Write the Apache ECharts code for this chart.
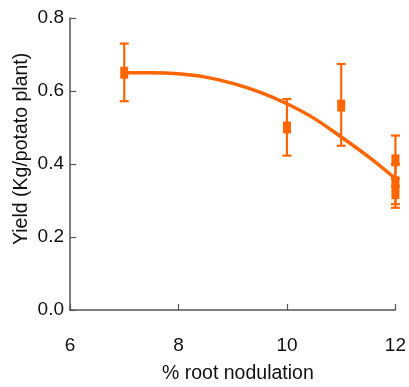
<!DOCTYPE html>
<html>
<head>
<meta charset="utf-8">
<script src="https://cdn.jsdelivr.net/npm/echarts@6/dist/echarts.min.js"></script>
<style>
  html, body { margin: 0; padding: 0; background: #fff; }
  #chart { width: 409px; height: 387px; }
</style>
</head>
<body>
<div id="chart"></div>
<script>
// Observed yields (mean with error range) per nodulation level
var ptX    = [7, 10, 11, 12, 12, 12];
var ptY    = [0.65, 0.50, 0.56, 0.41, 0.35, 0.32];
var errLow = [0.572, 0.423, 0.450, 0.34, 0.29, 0.28];
var errHigh= [0.730, 0.578, 0.674, 0.478, 0.40, 0.36];

// Fitted response curve
var curveX = [7.0, 7.5, 8.0, 8.5, 9.0, 9.5, 10.0, 10.5, 11.0, 11.5, 12.0];
var curveY = [0.650, 0.650, 0.647, 0.638, 0.621, 0.597, 0.565, 0.525, 0.474, 0.420, 0.360];

// Axis ticks
var xTicks = [6, 8, 10, 12];
var yTicks = [0.0, 0.2, 0.4, 0.6, 0.8];

var ORANGE = '#ff6600';
var AXIS = '#555555';
var FONT = 'Liberation Sans, Arial, Helvetica, sans-serif';

var points = ptX.map(function (x, i) { return [x, ptY[i]]; });
var errs = ptX.map(function (x, i) { return [x, errLow[i], errHigh[i]]; });
var curve = curveX.map(function (x, i) { return [x, curveY[i]]; });

var chart = echarts.init(document.getElementById('chart'), null, { renderer: 'canvas' });

chart.setOption({
  animation: false,
  backgroundColor: '#ffffff',
  grid: { left: 70, right: 10, top: 18, bottom: 77 },
  xAxis: {
    type: 'value',
    min: xTicks[0], max: xTicks[xTicks.length - 1], interval: 2,
    axisLine: { show: true, lineStyle: { color: AXIS, width: 1.5 } },
    axisTick: { show: true, inside: true, length: 6, lineStyle: { color: AXIS, width: 1.2 } },
    axisLabel: { color: '#111', fontSize: 19, fontFamily: FONT, margin: 26,
      formatter: function (v) { return xTicks.indexOf(v) >= 0 ? String(v) : ''; } },
    splitLine: { show: false }
  },
  yAxis: {
    type: 'value',
    min: yTicks[0], max: yTicks[yTicks.length - 1], interval: 0.2,
    axisLine: { show: true, lineStyle: { color: AXIS, width: 1.5 } },
    axisTick: { show: true, inside: true, length: 6, lineStyle: { color: AXIS, width: 1.2 } },
    axisLabel: { color: '#111', fontSize: 19, fontFamily: FONT, margin: 6,
      formatter: function (v) { return v.toFixed(1); } },
    splitLine: { show: false }
  },
  graphic: [
    { type: 'text', left: 162, top: 364, z: 10,
      style: { text: '% root nodulation', font: '19.5px ' + FONT, fill: '#111' } },
    { type: 'text', x: 12, y: 245, rotation: Math.PI / 2, z: 10,
      style: { text: 'Yield (Kg/potato plant)', font: '19.5px ' + FONT, fill: '#111',
               textAlign: 'left', textVerticalAlign: 'top' } }
  ],
  series: [
    {
      type: 'line',
      data: curve,
      smooth: 0.35,
      showSymbol: false,
      lineStyle: { color: ORANGE, width: 3.5 },
      z: 2
    },
    {
      type: 'custom',
      data: errs,
      z: 3,
      renderItem: function (params, api) {
        var x = api.value(0);
        var lo = api.coord([x, api.value(1)]);
        var hi = api.coord([x, api.value(2)]);
        var hw = 4.5;
        var style = { stroke: ORANGE, lineWidth: 2.2 };
        return {
          type: 'group',
          children: [
            { type: 'line', shape: { x1: lo[0], y1: lo[1], x2: hi[0], y2: hi[1] }, style: style },
            { type: 'line', shape: { x1: lo[0] - hw, y1: lo[1], x2: lo[0] + hw, y2: lo[1] }, style: style },
            { type: 'line', shape: { x1: hi[0] - hw, y1: hi[1], x2: hi[0] + hw, y2: hi[1] }, style: style }
          ]
        };
      }
    },
    {
      type: 'scatter',
      data: points,
      symbol: 'rect',
      symbolSize: [8, 12],
      itemStyle: { color: ORANGE, opacity: 1 },
      z: 4
    }
  ]
});
</script>
</body>
</html>
